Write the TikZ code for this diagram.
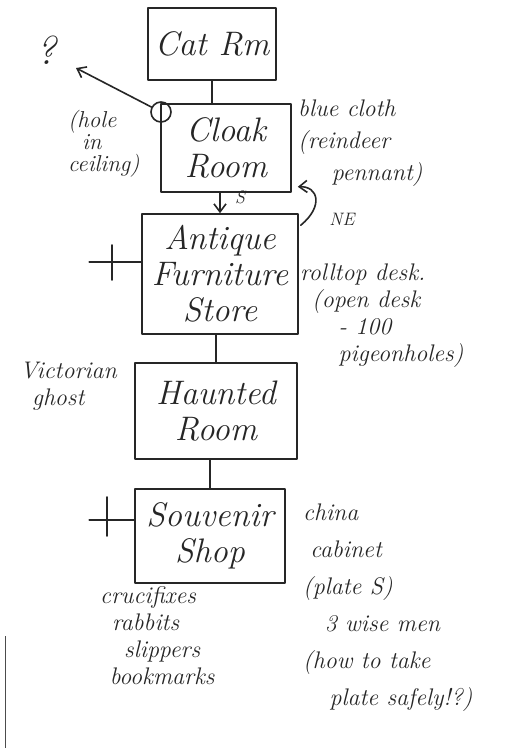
\documentclass[tikz,border=0pt]{standalone}
\usetikzlibrary{calc,arrows.meta}
\begin{document}
\begin{tikzpicture}[x=1pt,y=-1pt,
  ink/.style={line width=1.6pt, line cap=round, line join=round, draw=black!85},
  room/.style={ink, rectangle, align=center, inner sep=0pt,
    font=\fontsize{34}{36}\selectfont\itshape, text=black!85},
  note/.style={inner sep=0pt, text=black!85, align=left, anchor=north west,
    font=\fontsize{24}{27}\selectfont\itshape},
  tiny/.style={inner sep=0pt, text=black!85, font=\fontsize{18}{20}\selectfont\itshape},
  link/.style={ink},
  pointer/.style={ink, -{Straight Barb[length=8pt, width=12pt]}}]
\useasboundingbox (0,0) rectangle (506,748);
\fill[white] (0,0) rectangle (506,748);

% rooms, top to bottom
\node[room, minimum width=128pt, minimum height=72pt]  (cat)      at (212,44)  {Cat Rm};
\node[room, minimum width=130pt, minimum height=88pt]  (cloak)    at (226,148) {Cloak\\Room};
\node[room, minimum width=156pt, minimum height=120pt] (antique)  at (220,274) {Antique\\Furniture\\Store};
\node[room, minimum width=162pt, minimum height=96pt]  (haunted)  at (216,411) {Haunted\\Room};
\node[room, minimum width=150pt, minimum height=94pt]  (souvenir) at (210,536) {Souvenir\\Shop};

% passages between rooms
\draw[link] (cat.south) -- (cat.south |- cloak.north);
\draw[pointer] (antique.north |- cloak.south) -- (antique.north);
\node[tiny] (south) at (240,197) {S};
\draw[link] (haunted.north |- antique.south) -- (haunted.north);
\draw[link] (souvenir.north |- haunted.south) -- (souvenir.north);

% way back up, north-east
\draw[pointer] ($(antique.north east)+(2,12)$) .. controls (324,206) and (318,186) .. ($(cloak.south east)+(6,-6)$);
\node[tiny] (ne) at (342,219) {NE};

% hole in the cloak room ceiling
\node[ink, draw, circle, minimum size=20pt, inner sep=0pt] (hole) at (161,112) {};
\coordinate (qtip) at (76,68);
\draw[pointer] (hole) -- (qtip);
\node[inner sep=0pt, text=black!85, font=\fontsize{40}{42}\selectfont\itshape] (qmark) at (46,50) {?};
\node[note, font=\fontsize{23}{22}\selectfont\itshape] (holenote) at (68,110) {(hole\\\hspace*{0.6em}in\\ceiling)};

% doors marked with a cross
\draw[ink] ($(antique.west)+(0,-12)$) -- ++(-52,0);
\draw[ink] ($(antique.west)+(-29,-29)$) -- ++(0,35);
\draw[ink] ($(souvenir.west)+(0,-16)$) -- ++(-45,0);
\draw[ink] ($(souvenir.west)+(-27,-39)$) -- ++(0,39);

% contents of each room
\node[note, font=\fontsize{24}{32}\selectfont\itshape] (cloth) at (298,100) {blue cloth\\(reindeer\\\hspace*{1.4em}pennant)};
\node[note, font=\fontsize{24}{27}\selectfont\itshape] (desk) at (300,264) {rolltop desk.\\\hspace*{0.5em}(open desk\\\hspace*{1.6em}- 100\\\hspace*{1.6em}pigeonholes)};
\node[note] (ghost) at (20,362) {Victorian\\\hspace*{0.5em}ghost};
\node[note, font=\fontsize{24}{37}\selectfont\itshape] (china) at (303,504) {china\\\hspace*{0.3em}cabinet\\(plate S)\\\hspace*{0.9em}3 wise men\\(how to take\\\hspace*{1.1em}plate safely!?)};
\node[note, font=\fontsize{24}{27}\selectfont\itshape] (gifts) at (100,586) {crucifixes\\\hspace*{0.5em}rabbits\\\hspace*{1em}slippers\\\hspace*{0.4em}bookmarks};

% mark along the left margin
\draw[line width=1pt, draw=black!70] (5,636) -- (5,748);
\end{tikzpicture}
\end{document}
